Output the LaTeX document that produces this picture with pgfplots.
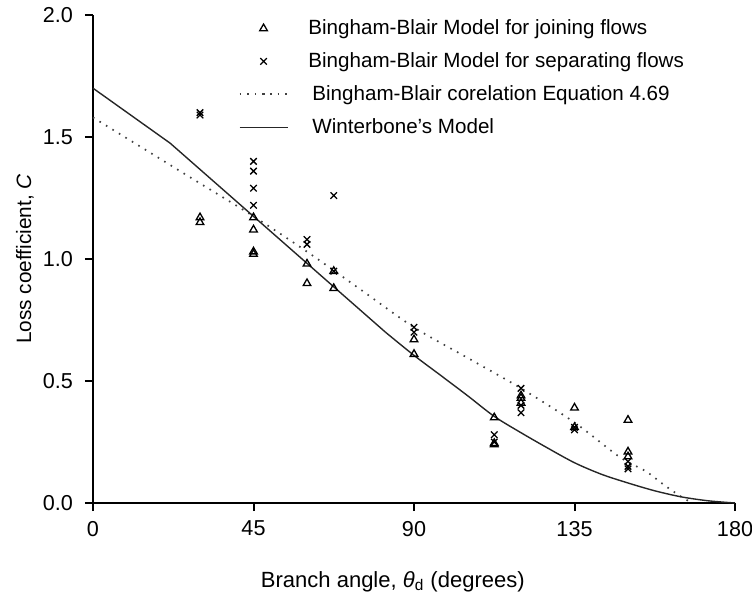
\documentclass[border=0pt]{standalone}
\usepackage{fontspec}
\setmainfont{Liberation Sans}
\usepackage{pgfplots}
\pgfplotsset{compat=1.18}
\begin{document}
\begin{tikzpicture}
\begin{axis}[
  scale only axis,
  width=321pt, height=244pt,
  xmin=0, xmax=180, ymin=0, ymax=2,
  axis x line*=bottom, axis y line*=left,
  axis line style={line width=1pt},
  xtick={0,45,90,135,180},
  ytick={0,0.5,1,1.5,2},
  tick align=outside, major tick length=4pt,
  tick style={line width=1pt, black},
  /pgf/number format/assume math mode=true,
  yticklabel style={/pgf/number format/.cd, fixed, fixed zerofill, precision=1, /tikz/.cd, xshift=-2.5pt},
  ticklabel style={font=\fontsize{10.8}{12}\selectfont},
  xticklabel style={yshift=-1.5pt},
  xlabel={Branch angle, \textit{θ}\textsubscript{d} (degrees)},
  ylabel={Loss coefficient, \textit{C}},
  xlabel style={at={(axis description cs:0.467,-0.125)}, anchor=north, font=\fontsize{11}{13}\selectfont},
  ylabel style={at={(axis description cs:-0.106,0.5)}, anchor=center, font=\fontsize{10.4}{12}\selectfont},
  legend style={at={(axis description cs:0.217,1.008)}, anchor=north west, draw=none, fill=none,
     font=\fontsize{10.3}{12}\selectfont, row sep=3.5pt},
  legend cell align=left,
  legend image code/.code={\draw[mark repeat=2,mark phase=2,#1] plot coordinates {(0pt,0pt) (12pt,0pt) (24pt,0pt)};},
  clip=false,
]
\coordinate (bl) at (axis description cs:0,0);
\coordinate (tr) at (axis description cs:1,1);
\addplot[only marks, mark=triangle, mark size=2.2pt, black, mark options={line width=0.65pt}] coordinates {
(30,1.15) (30,1.17)
(45,1.17) (45,1.12) (45,1.03) (45,1.02)
(60,0.98) (60,0.90)
(67.5,0.95) (67.5,0.88)
(90,0.67) (90,0.61)
(112.5,0.35) (112.5,0.24) (112.5,0.245)
(120,0.44) (120,0.43) (120,0.41)
(135,0.39) (135,0.31)
(150,0.34) (150,0.21) (150,0.19)
};
\addlegendentry{\hspace*{8pt}Bingham-Blair Model for joining flows}
\addplot[only marks, mark=x, mark size=2.3pt, black, mark options={line width=0.65pt}] coordinates {
(30,1.60) (30,1.59)
(45,1.40) (45,1.36) (45,1.29) (45,1.22)
(60,1.08) (60,1.06)
(67.5,1.26) (67.5,0.95)
(90,0.72) (90,0.70)
(112.5,0.28) (112.5,0.25)
(120,0.47) (120,0.40) (120,0.37)
(135,0.31) (135,0.30)
(150,0.17) (150,0.15) (150,0.14)
};
\addlegendentry{\hspace*{8pt}Bingham-Blair Model for separating flows}
\addplot[black!75, line width=0.85pt, dash pattern=on 0.8pt off 3pt, smooth] coordinates {
(0,1.58) (15,1.445) (30,1.31) (45,1.175) (60,1.03) (75,0.875) (90,0.72) (105,0.595) (120,0.47) (135,0.33) (147.5,0.19) (155,0.13) (160,0.075) (165,0.025) (168,0.0)
};
\addlegendentry{\hspace*{10pt}Bingham-Blair corelation Equation 4.69}
\addplot[black!85, line width=0.7pt] coordinates {
(0,1.70) (21.6,1.475) (82,0.70)
};
\addlegendentry{\hspace*{10pt}Winterbone's Model}
\addplot[black!85, line width=0.7pt, smooth, forget plot] coordinates {
(82,0.70) (90,0.605) (97.3,0.525) (105,0.44) (112.5,0.355) (120,0.288) (127.5,0.225) (135,0.165) (142.5,0.118) (150,0.082) (157.5,0.05) (165,0.025) (172.5,0.009) (180,0)
};
\end{axis}
\pgfresetboundingbox
\path ([shift={(-46.5pt,-44.5pt)}]bl) rectangle ([shift={(8.5pt,7.5pt)}]tr);
\end{tikzpicture}
\end{document}
